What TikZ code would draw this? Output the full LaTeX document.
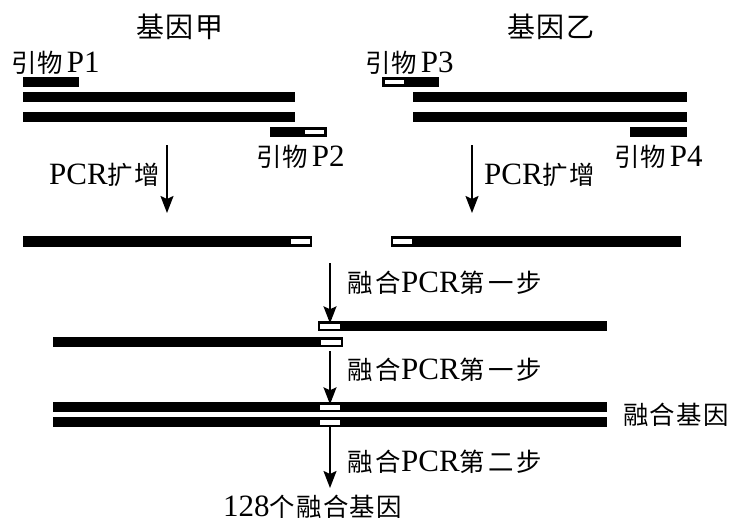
\documentclass[tikz,border=0pt]{standalone}
\usepackage{fontspec}
\setmainfont{Liberation Serif}
\newfontfamily\cjk[Scale=0.82, LetterSpace=12]{Noto Sans CJK SC}
\newfontfamily\cjkN[Scale=0.82, LetterSpace=5]{Noto Sans CJK SC}
\newfontfamily\cjkT[LetterSpace=4]{Noto Sans CJK SC}
\newcommand\thinsp{{\fontsize{14}{14}\selectfont\ }}
\usetikzlibrary{arrows.meta}
\tikzset{
  bar/.style={fill=black, draw=none, inner sep=0pt, anchor=north west, minimum height=10pt},
  tag/.style={fill=white, draw=none, inner sep=0pt, minimum height=4.5pt},
  flow/.style={line width=1.8pt, -{Stealth[length=17pt,width=13pt,inset=3pt]}},
  lbl/.style={inner sep=0pt, font=\fontsize{31}{33}\selectfont},
  ttl/.style={inner sep=0pt, font=\fontsize{28}{30}\selectfont\cjkT},
}
\begin{document}
\begin{tikzpicture}[x=1pt,y=-1pt]
\useasboundingbox[fill=white] (0,0) rectangle (729,522);
% titles
\node[ttl] (tA) at (180,27) {基因甲};
\node[ttl] (tB) at (551,27) {基因乙};
% primer labels
\node[lbl, anchor=west] (lP1) at (11,63) {{\cjkN 引物}\thinsp P1};
\node[lbl, anchor=west] (lP3) at (365,63) {{\cjkN 引物}\thinsp P3};
\node[lbl, anchor=west] (lP2) at (256,157) {{\cjkN 引物}\thinsp P2};
\node[lbl, anchor=west] (lP4) at (614,157) {{\cjkN 引物}\thinsp P4};
% gene A
\node[bar, minimum width=56pt] (p1) at (23,77) {};
\node[bar, minimum width=272pt] (a1) at (23,92) {};
\node[bar, minimum width=272pt] (a2) at (23,112) {};
\node[bar, minimum width=57pt] (p2) at (270,127) {};
\node[tag, minimum width=19pt] (p2t) at (314.5,132) {};
% gene B
\node[bar, minimum width=57pt] (p3) at (382,77) {};
\node[tag, minimum width=19pt] (p3t) at (394,82) {};
\node[bar, minimum width=274pt] (b1) at (413,92) {};
\node[bar, minimum width=274pt] (b2) at (413,112) {};
\node[bar, minimum width=57pt] (p4) at (630,127) {};
% PCR products
\node[bar, minimum width=289pt, minimum height=11pt] (ap) at (23,236) {};
\node[tag, minimum width=19pt, minimum height=5pt] (apt) at (300.5,241.5) {};
\node[bar, minimum width=290pt, minimum height=11pt] (bp) at (391,236) {};
\node[tag, minimum width=19pt, minimum height=5pt] (bpt) at (402.5,241.5) {};
% PCR arrows
\coordinate (aS) at (167,145); \coordinate (aE) at (167,213);
\coordinate (bS) at (472,145); \coordinate (bE) at (472,213);
\draw[flow] (aS) -- (aE);
\draw[flow] (bS) -- (bE);
\node[lbl, anchor=east] (pa) at (160,175) {PCR{\cjkN 扩增}};
\node[lbl, anchor=west] (pb) at (484,175) {PCR{\cjkN 扩增}};
% fusion step 1
\node[bar, minimum width=289pt] (f1) at (318,321) {};
\node[tag, minimum width=20pt, minimum height=5pt] (f1t) at (330,326) {};
\node[bar, minimum width=290pt] (f2) at (53,337) {};
\node[tag, minimum width=20pt, minimum height=5pt] (f2t) at (330.5,342) {};
% fused gene
\node[bar, minimum width=554pt] (g1) at (53,402) {};
\node[tag, minimum width=20pt, minimum height=5pt] (g1t) at (330,407) {};
\node[bar, minimum width=554pt] (g2) at (53,417) {};
\node[tag, minimum width=20pt, minimum height=5pt] (g2t) at (330,422) {};
% fusion arrows
\coordinate (s1) at (330,263); \coordinate (s2) at (330,351); \coordinate (s3e) at (330,488);
\draw[flow] (s1) -- (f1t.north);
\draw[flow] (s2) -- (g1t.north);
\draw[flow] (g2.south -| g2t) -- (s3e);
\node[lbl, anchor=west] (l1) at (347,283) {{\cjk 融合}PCR{\cjk 第一步}};
\node[lbl, anchor=west] (l2) at (347,370) {{\cjk 融合}PCR{\cjk 第一步}};
\node[lbl, anchor=west] (l3) at (347,462) {{\cjk 融合}PCR{\cjk 第二步}};
\node[lbl, anchor=west] (lg) at (623,415) {\cjkN 融合基因};
\node[lbl, anchor=west] (l128) at (223,507) {128{\cjkN 个融合基因}};
\end{tikzpicture}
\end{document}
